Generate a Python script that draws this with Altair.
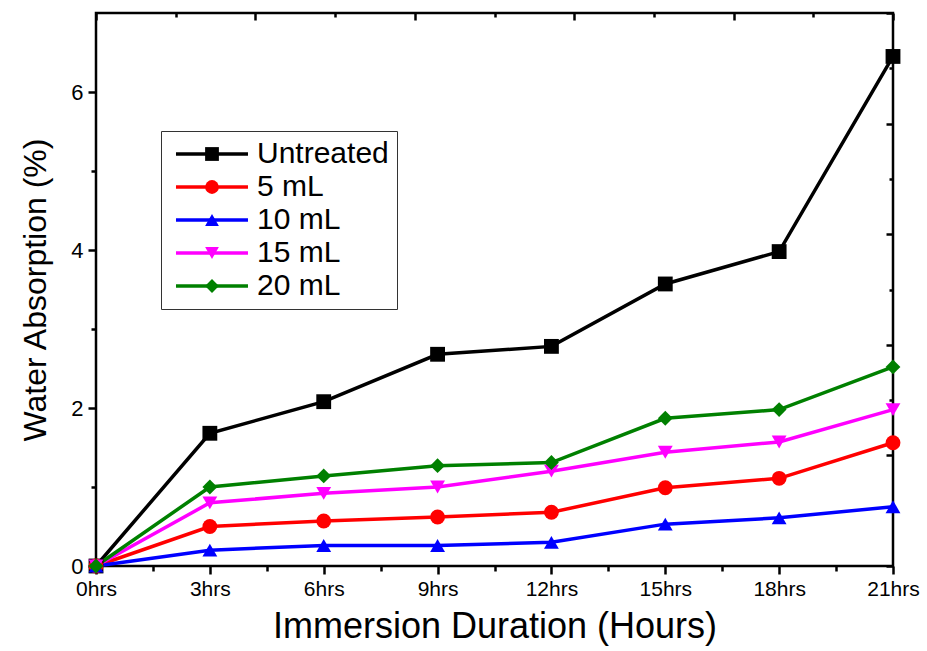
import altair as alt
import pandas as pd

HOURS = [0, 3, 6, 9, 12, 15, 18, 21]
HOUR_LABELS = ["0hrs", "3hrs", "6hrs", "9hrs", "12hrs", "15hrs", "18hrs", "21hrs"]
X_TICKS = [0, 1.5, 3, 4.5, 6, 7.5, 9, 10.5, 12, 13.5, 15, 16.5, 18, 19.5, 21]
Y_TICKS = [0, 1, 2, 3, 4, 5, 6]
MIRROR_TICKS = [0, 1, 2, 3, 4, 5, 6, 7, 8, 9, 10]
MIRROR_RANGE = [0, 10]

SERIES = ["Untreated", "5 mL", "10 mL", "15 mL", "20 mL"]
UNTREATED = [0, 1.68, 2.08, 2.68, 2.78, 3.57, 3.98, 6.45]
ML5 = [0, 0.50, 0.57, 0.62, 0.68, 0.99, 1.11, 1.56]
ML10 = [0, 0.20, 0.26, 0.26, 0.30, 0.53, 0.61, 0.75]
ML15 = [0, 0.80, 0.92, 1.00, 1.20, 1.44, 1.57, 1.98]
ML20 = [0, 1.00, 1.14, 1.27, 1.31, 1.87, 1.98, 2.52]
VALUES = [UNTREATED, ML5, ML10, ML15, ML20]

COLORS = ["#000000", "#FF0000", "#0000FF", "#FF00FF", "#008000"]
SHAPES = ["square", "circle", "triangle-up", "triangle-down", "diamond"]

FONT = "Liberation Sans"

rows = []
for i, (name, vals) in enumerate(zip(SERIES, VALUES)):
    for h, v in zip(HOURS, vals):
        rows.append({"hours": h, "absorption": v, "series": name,
                     "series2": name, "idx": i})
df = pd.DataFrame(rows)

mirror_df = pd.DataFrame({"m": MIRROR_RANGE})

sort_idx = alt.EncodingSortField(field="idx", op="min")

x_label_expr = (f"indexof({HOURS}, datum.value) >= 0 ? "
                f"{HOUR_LABELS}[indexof({HOURS}, datum.value)] : ''")

x_enc = alt.X(
    "hours:Q",
    scale=alt.Scale(domain=[0, 21], nice=False, zero=False),
    axis=alt.Axis(
        values=X_TICKS, labelExpr=x_label_expr,
        tickSize=alt.ExprRef(expr="datum.value % 3 == 0 ? 8 : 5"),
        tickWidth=2.5, tickColor="black", domain=False, grid=False,
        labelFlush=False, labelOverlap=False, labelFont=FONT,
        labelFontSize=21, labelColor="black", labelPadding=4,
        title="Immersion Duration (Hours)", titleFont=FONT, titleFontSize=36,
        titleFontWeight="normal", titleColor="black", titlePadding=10,
    ),
)
y_enc = alt.Y(
    "absorption:Q",
    scale=alt.Scale(domain=[0, 7], nice=False),
    axis=alt.Axis(
        values=Y_TICKS, labelExpr="datum.value % 2 == 0 ? datum.value : ''",
        tickSize=alt.ExprRef(expr="datum.value % 2 == 0 ? 8 : 5"),
        tickWidth=2.5, tickColor="black", domain=False, grid=False,
        labelFont=FONT, labelFontSize=22, labelColor="black", labelPadding=5,
        labelOverlap=False,
        title="Water Absorption (%)", titleFont=FONT, titleFontSize=32,
        titleFontWeight="normal", titleColor="black", titlePadding=18,
    ),
)

line_legend = alt.Legend(
    orient="none", legendX=65, legendY=118, title=None,
    symbolType="M-0.89,0H7.11", symbolSize=324, symbolStrokeWidth=3.5,
    labelFont=FONT, labelFontSize=30, labelColor="black", labelOffset=58,
    padding=8, rowPadding=3, strokeColor="#333333", fillColor="white",
    labelLimit=0,
)
point_legend = alt.Legend(
    orient="none", legendX=65, legendY=118, title=None,
    symbolSize=190, symbolStrokeWidth=0, symbolOffset=28,
    labelFont=FONT, labelFontSize=30, labelExpr="''", labelOffset=58,
    padding=8, rowPadding=3, labelLimit=0,
)

lines = alt.Chart(df).mark_line(strokeWidth=3.5).encode(
    x=x_enc, y=y_enc,
    color=alt.Color("series:N", sort=sort_idx,
                    scale=alt.Scale(range=COLORS), legend=line_legend),
    detail="series:N",
)
points = alt.Chart(df).mark_point(filled=True, opacity=1, size=220).encode(
    x=x_enc, y=y_enc,
    fill=alt.Fill("series2:N", sort=sort_idx,
                  scale=alt.Scale(range=COLORS), legend=point_legend),
    shape=alt.Shape("series2:N", sort=sort_idx,
                    scale=alt.Scale(range=SHAPES), legend=point_legend),
)

main = alt.layer(lines, points)

mirror = alt.Chart(mirror_df).mark_point(opacity=0).encode(
    x=alt.X("m:Q", scale=alt.Scale(domain=MIRROR_RANGE, nice=False),
            axis=alt.Axis(orient="top", values=MIRROR_TICKS, labels=False,
                          domain=False, grid=False, title=None,
                          tickSize=alt.ExprRef(expr="datum.value % 2 == 0 ? -7 : -4"),
                          tickWidth=2.5, tickColor="black")),
    y=alt.Y("m:Q", scale=alt.Scale(domain=MIRROR_RANGE, nice=False),
            axis=alt.Axis(orient="right", values=MIRROR_TICKS, labels=False,
                          domain=False, grid=False, title=None,
                          tickSize=alt.ExprRef(expr="datum.value % 2 == 0 ? -7 : -4"),
                          tickWidth=2.5, tickColor="black")),
)

chart = alt.layer(main, mirror).resolve_scale(
    x="independent", y="independent"
).properties(
    width=797, height=553,
    padding={"left": 96, "top": 13, "right": 34, "bottom": 85},
    autosize="none", background="white",
).configure_view(stroke="black", strokeWidth=2.5)

chart.save("out.html", embed_options={"renderer": "svg", "actions": False})
